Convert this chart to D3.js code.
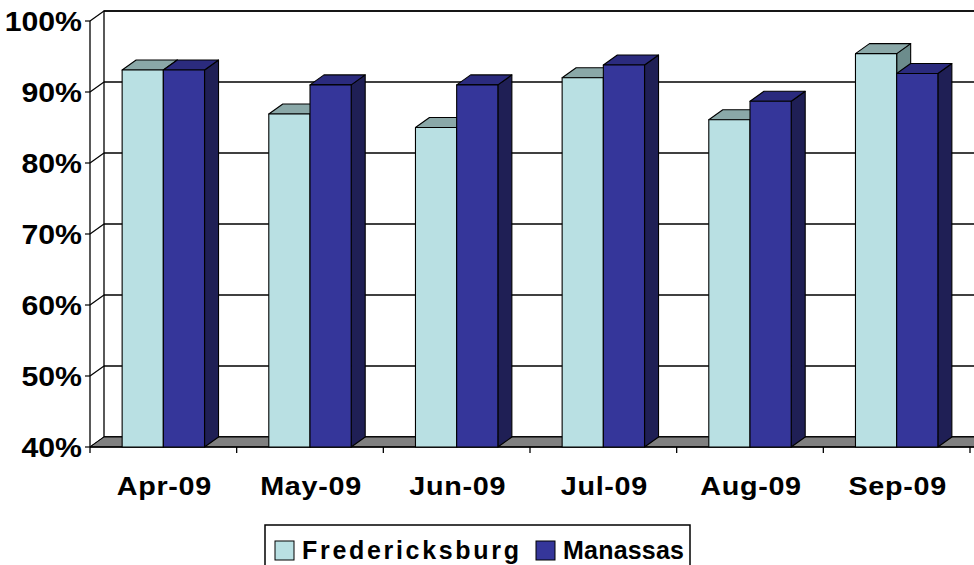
<!DOCTYPE html>
<html>
<head>
<meta charset="utf-8">
<script src="https://cdn.jsdelivr.net/npm/d3@7"></script>
<style>
  body { margin: 0; background: #fff; }
  svg { display: block; font-family: "Liberation Sans", Arial, sans-serif; font-weight: bold; }
</style>
</head>
<body>
<svg id="fig" width="974" height="565"></svg>
<script>
const months = ["Apr-09", "May-09", "Jun-09", "Jul-09", "Aug-09", "Sep-09"];
const fredericksburg = [93.1, 86.9, 85.0, 92.0, 86.1, 95.4];
const manassas = [93.1, 91.0, 91.0, 93.8, 88.7, 92.6];
const seriesNames = ["Fredericksburg", "Manassas"];
const yTicks = [40, 50, 60, 70, 80, 90, 100];

// colours: front, top, side
const palette = [
    {front: "#b9e0e3", top: "#8aa8a8", side: "#6c8c8c"},
    {front: "#35369a", top: "#2b2b7e", side: "#1f1f55"}
];

const svg = d3.select("#fig");
const dx = 14, dy = -10;   // depth offset of the 3d box

let x = d3.scaleBand().domain(months).range([90, 970]);
let y = d3.scaleLinear().domain([40, 100]).range([447, 21]);
let xRight = x.range()[1];

// back wall
svg.append("rect")
    .attr("x", 90 + dx).attr("y", y(100) + dy)
    .attr("width", xRight + 40).attr("height", y(40) - y(100))
    .attr("fill", "#fff").attr("stroke", "#000").attr("stroke-width", 1.3);

// gridlines on back wall + slanted ticks on side wall
yTicks.forEach(v => {
    svg.append("line")
        .attr("x1", 90 + dx).attr("x2", xRight + 60)
        .attr("y1", y(v) + dy).attr("y2", y(v) + dy)
        .attr("stroke", "#000").attr("stroke-width", 1.3);
    svg.append("line")
        .attr("x1", 90).attr("y1", y(v))
        .attr("x2", 90 + dx).attr("y2", y(v) + dy)
        .attr("stroke", "#000").attr("stroke-width", 1.2);
    svg.append("line")
        .attr("x1", 85).attr("x2", 90)
        .attr("y1", y(v)).attr("y2", y(v))
        .attr("stroke", "#000").attr("stroke-width", 1.2);
    // labels are stretched sideways like the exported original
    svg.append("text")
        .attr("transform", `translate(82,${y(v)}) scale(1.08,1)`)
        .attr("dy", "0.36em")
        .attr("text-anchor", "end")
        .attr("font-size", 28)
        .text(v + "%");
});

// floor
svg.append("polygon")
    .attr("points", [[90, y(40)], [xRight + 20, y(40)], [xRight + 20 + dx, y(40) + dy], [90 + dx, y(40) + dy]].join(" "))
    .attr("fill", "#808080").attr("stroke", "#000").attr("stroke-width", 1);

// front axis lines
svg.append("line")
    .attr("x1", 90).attr("x2", 90).attr("y1", y(100)).attr("y2", y(40))
    .attr("stroke", "#000").attr("stroke-width", 1.3);
svg.append("line")
    .attr("x1", 90).attr("x2", xRight + 20).attr("y1", y(40)).attr("y2", y(40))
    .attr("stroke", "#000").attr("stroke-width", 1.5);
months.forEach((m, i) => {
    const xt = x(m) + x.bandwidth();
    svg.append("line")
        .attr("x1", xt).attr("x2", xt).attr("y1", y(40)).attr("y2", y(40) + 6)
        .attr("stroke", "#000").attr("stroke-width", 1.3);
});
svg.append("line")
    .attr("x1", 90).attr("x2", 90).attr("y1", y(40)).attr("y2", y(40) + 6)
    .attr("stroke", "#000").attr("stroke-width", 1.3);

// bars
let inner = d3.scaleBand().domain([0, 1])
    .range([0, x.bandwidth()]).paddingOuter(0.78).paddingInner(0);

const allSeries = [fredericksburg, manassas];
months.forEach((m, i) => {
    allSeries.forEach((vals, s) => {
        const x0 = x(m) + inner(s);
        const x1 = x0 + inner.bandwidth();
        const yt = y(vals[i]);
        const yb = y(40);
        const c = palette[s];
        const g = svg.append("g").attr("stroke", "#000").attr("stroke-width", 1.1).attr("stroke-linejoin", "round");
        g.append("polygon")
            .attr("points", [[x1, yt], [x1 + dx, yt + dy], [x1 + dx, yb + dy], [x1, yb]].join(" "))
            .attr("fill", c.side);
        g.append("polygon")
            .attr("points", [[x0, yt], [x0 + dx, yt + dy], [x1 + dx, yt + dy], [x1, yt]].join(" "))
            .attr("fill", c.top);
        g.append("rect")
            .attr("x", x0).attr("y", yt)
            .attr("width", x1 - x0).attr("height", yb - yt)
            .attr("fill", c.front);
    });
});

// category labels
months.forEach(m => {
    svg.append("text")
        .attr("transform", `translate(${x(m) + x.bandwidth() / 2 + 1},495) scale(1.15,1)`)
        .attr("text-anchor", "middle")
        .attr("font-size", 25)
        .attr("letter-spacing", 0.6)
        .text(m);
});

// legend
const legend = svg.append("g");
legend.append("rect")
    .attr("x", 265).attr("y", 525).attr("width", 425).attr("height", 60)
    .attr("fill", "#fff").attr("stroke", "#000").attr("stroke-width", 1.5);
const legendX = [275, 536];
const legendLen = [217, 121];
seriesNames.forEach((name, s) => {
    legend.append("rect")
        .attr("x", legendX[s]).attr("y", 541).attr("width", 19).attr("height", 19)
        .attr("fill", palette[s].front).attr("stroke", "#000").attr("stroke-width", 1);
    legend.append("text")
        .attr("x", legendX[s] + 27).attr("y", 559)
        .attr("font-size", 25)
        .attr("textLength", legendLen[s])
        .attr("lengthAdjust", "spacing")
        .text(name);
});
</script>
</body>
</html>
